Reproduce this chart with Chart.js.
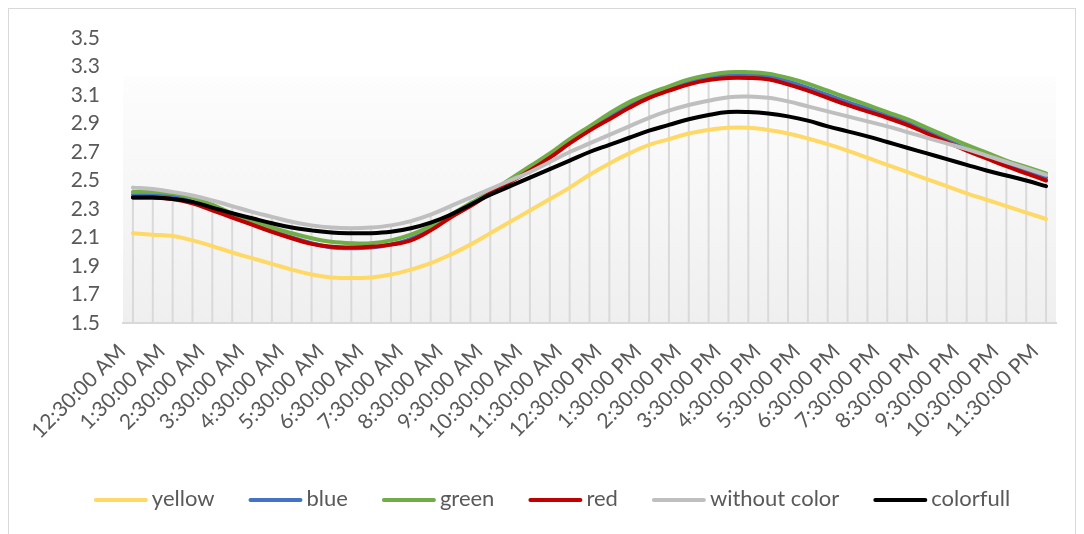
<!DOCTYPE html>
<html>
<head>
<meta charset="utf-8">
<script src="https://cdn.jsdelivr.net/npm/chart.js@4.4.1/dist/chart.umd.min.js"></script>
<style>
  html, body { margin: 0; padding: 0; background: #ffffff; }
  #wrap { position: relative; width: 1084px; height: 534px; }
  canvas { display: block; }
</style>
</head>
<body>
<div id="wrap"><canvas id="chart" width="1084" height="534"></canvas></div>
<script>
// Half-hourly readings over one day
const times = [
  "12:30:00 AM", "1:00:00 AM", "1:30:00 AM", "2:00:00 AM", "2:30:00 AM", "3:00:00 AM",
  "3:30:00 AM", "4:00:00 AM", "4:30:00 AM", "5:00:00 AM", "5:30:00 AM", "6:00:00 AM",
  "6:30:00 AM", "7:00:00 AM", "7:30:00 AM", "8:00:00 AM", "8:30:00 AM", "9:00:00 AM",
  "9:30:00 AM", "10:00:00 AM", "10:30:00 AM", "11:00:00 AM", "11:30:00 AM", "12:00:00 PM",
  "12:30:00 PM", "1:00:00 PM", "1:30:00 PM", "2:00:00 PM", "2:30:00 PM", "3:00:00 PM",
  "3:30:00 PM", "4:00:00 PM", "4:30:00 PM", "5:00:00 PM", "5:30:00 PM", "6:00:00 PM",
  "6:30:00 PM", "7:00:00 PM", "7:30:00 PM", "8:00:00 PM", "8:30:00 PM", "9:00:00 PM",
  "9:30:00 PM", "10:00:00 PM", "10:30:00 PM", "11:00:00 PM", "11:30:00 PM"
];

const yellow = [2.13, 2.12, 2.11, 2.08, 2.04, 1.995, 1.955, 1.915, 1.875, 1.84,
  1.82, 1.815, 1.82, 1.84, 1.875, 1.92, 1.98, 2.05, 2.13, 2.21,
  2.29, 2.37, 2.45, 2.54, 2.62, 2.69, 2.75, 2.79, 2.83, 2.855,
  2.87, 2.87, 2.855, 2.83, 2.795, 2.755, 2.71, 2.66, 2.61, 2.56,
  2.51, 2.46, 2.41, 2.365, 2.32, 2.275, 2.23];

const blue = [2.40, 2.40, 2.39, 2.35, 2.30, 2.25, 2.20, 2.15, 2.10, 2.06,
  2.03, 2.025, 2.03, 2.05, 2.09, 2.16, 2.25, 2.33, 2.42, 2.50,
  2.58, 2.67, 2.77, 2.86, 2.95, 3.03, 3.09, 3.14, 3.19, 3.22,
  3.24, 3.24, 3.23, 3.195, 3.15, 3.10, 3.05, 3.005, 2.96, 2.91,
  2.85, 2.785, 2.72, 2.67, 2.62, 2.57, 2.52];

const green = [2.42, 2.42, 2.41, 2.38, 2.33, 2.27, 2.22, 2.17, 2.13, 2.095,
  2.07, 2.06, 2.06, 2.08, 2.12, 2.18, 2.26, 2.34, 2.42, 2.51,
  2.60, 2.69, 2.79, 2.88, 2.97, 3.05, 3.11, 3.16, 3.21, 3.24,
  3.26, 3.26, 3.25, 3.22, 3.18, 3.13, 3.08, 3.03, 2.98, 2.93,
  2.87, 2.81, 2.75, 2.695, 2.64, 2.595, 2.55];

const red = [2.38, 2.38, 2.37, 2.34, 2.29, 2.24, 2.19, 2.14, 2.095, 2.055,
  2.035, 2.03, 2.035, 2.05, 2.08, 2.15, 2.24, 2.32, 2.41, 2.49,
  2.57, 2.66, 2.76, 2.85, 2.93, 3.01, 3.08, 3.13, 3.175, 3.205,
  3.22, 3.22, 3.21, 3.175, 3.13, 3.08, 3.03, 2.985, 2.94, 2.89,
  2.83, 2.77, 2.71, 2.655, 2.60, 2.55, 2.50];

const withoutColor = [2.45, 2.44, 2.42, 2.395, 2.36, 2.32, 2.28, 2.245, 2.21, 2.185,
  2.17, 2.165, 2.17, 2.185, 2.215, 2.26, 2.32, 2.38, 2.44, 2.50,
  2.56, 2.63, 2.70, 2.76, 2.82, 2.88, 2.94, 2.99, 3.03, 3.06,
  3.085, 3.09, 3.08, 3.055, 3.02, 2.985, 2.95, 2.915, 2.88, 2.84,
  2.80, 2.76, 2.72, 2.675, 2.63, 2.585, 2.54];

const colorfull = [2.38, 2.38, 2.37, 2.35, 2.31, 2.27, 2.235, 2.20, 2.17, 2.15,
  2.135, 2.13, 2.13, 2.14, 2.165, 2.205, 2.26, 2.33, 2.40, 2.46,
  2.52, 2.58, 2.64, 2.70, 2.75, 2.80, 2.85, 2.89, 2.93, 2.96,
  2.98, 2.98, 2.97, 2.95, 2.92, 2.88, 2.845, 2.81, 2.77, 2.73,
  2.69, 2.65, 2.61, 2.57, 2.535, 2.50, 2.46];

const seriesNames = ["yellow", "blue", "green", "red", "without color", "colorfull"];
const seriesValues = [yellow, blue, green, red, withoutColor, colorfull];
const seriesColors = ["#FFD966", "#4472C4", "#70AD47", "#C00000", "#BFBFBF", "#000000"];

// Value axis: 1.5 to 3.5 in steps of 0.2
const yTicks = [1.5, 1.7, 1.9, 2.1, 2.3, 2.5, 2.7, 2.9, 3.1, 3.3, 3.5];

const TEXT_COLOR = "#595959";
const FONT = "Lato";
const FONT_SIZE = 21;
const LEGEND_FONT_SIZE = 22;

// Background, plot-area shading and the outer frame
const backdrop = {
  id: "backdrop",
  beforeDraw(chart) {
    const { ctx, chartArea: a } = chart;
    ctx.save();
    ctx.fillStyle = "#ffffff";
    ctx.fillRect(0, 0, chart.width, chart.height);
    const shadeTop = a.top + (a.bottom - a.top) * 0.133;
    const g = ctx.createLinearGradient(0, shadeTop, 0, a.bottom);
    g.addColorStop(0, "#fdfdfd");
    g.addColorStop(1, "#efefef");
    ctx.fillStyle = g;
    ctx.fillRect(a.left, shadeTop, a.right - a.left, a.bottom - shadeTop);
    ctx.strokeStyle = "#d9d9d9";
    ctx.lineWidth = 1;
    ctx.strokeRect(8.5, 8.5, chart.width - 17, chart.height + 20);
    ctx.restore();
  }
};

// Drop lines from the highest series down to the category axis
const dropLines = {
  id: "dropLines",
  beforeDatasetsDraw(chart) {
    const { ctx, chartArea: a, scales: { x, y } } = chart;
    ctx.save();
    ctx.strokeStyle = "#d9d9d9";
    ctx.lineWidth = 2;
    times.forEach((t, i) => {
      const top = Math.max(...seriesValues.map(s => s[i]));
      const px = x.getPixelForValue(i);
      ctx.beginPath();
      ctx.moveTo(px, y.getPixelForValue(top));
      ctx.lineTo(px, a.bottom);
      ctx.stroke();
    });
    ctx.restore();
  }
};

// Legend row under the axis labels
const bottomLegend = {
  id: "bottomLegend",
  afterDraw(chart) {
    const ctx = chart.ctx;
    ctx.save();
    ctx.font = LEGEND_FONT_SIZE + "px " + FONT;
    const lineLen = 54, textGap = 4, itemGap = 34;
    const items = chart.data.datasets.map(ds => ({
      label: ds.label, color: ds.borderColor, w: ctx.measureText(ds.label).width
    }));
    const total = items.reduce((s, it) => s + lineLen + textGap + it.w, 0) + itemGap * (items.length - 1);
    let x = 552 - total / 2;
    const y = 500;
    items.forEach(it => {
      ctx.strokeStyle = it.color;
      ctx.lineWidth = 4;
      ctx.lineCap = "round";
      ctx.beginPath();
      ctx.moveTo(x + 2, y);
      ctx.lineTo(x + lineLen - 2, y);
      ctx.stroke();
      ctx.fillStyle = TEXT_COLOR;
      ctx.textBaseline = "middle";
      ctx.textAlign = "left";
      ctx.fillText(it.label, x + lineLen + textGap, y - 1);
      x += lineLen + textGap + it.w + itemGap;
    });
    ctx.restore();
  }
};

Chart.defaults.font.family = FONT;
Chart.defaults.font.size = FONT_SIZE;
Chart.defaults.color = TEXT_COLOR;

new Chart(document.getElementById("chart"), {
  type: "line",
  data: {
    labels: times,
    datasets: seriesNames.map((name, k) => ({
      label: name,
      data: seriesValues[k],
      borderColor: seriesColors[k],
      backgroundColor: seriesColors[k],
      borderWidth: 4,
      pointRadius: 0,
      pointHoverRadius: 0,
      tension: 0.4,
      fill: false,
      borderCapStyle: "round",
      borderJoinStyle: "round",
      order: seriesNames.length - k
    }))
  },
  options: {
    responsive: false,
    animation: false,
    devicePixelRatio: 1,
    layout: { padding: { top: 38, right: 28, left: 0, bottom: 0 } },
    plugins: {
      legend: { display: false },
      tooltip: { enabled: false }
    },
    scales: {
      x: {
        type: "category",
        offset: true,
        grid: { display: false, drawTicks: false },
        border: { display: true, color: "#d9d9d9", width: 2 },
        ticks: {
          autoSkip: false,
          maxRotation: 45,
          minRotation: 45,
          padding: 16,
          labelOffset: -11,
          color: TEXT_COLOR,
          font: { size: FONT_SIZE, lineHeight: 1.2 },
          callback: (v, i) => (i % 2 === 0 ? times[i] : "")
        },
        afterFit(scale) { scale.height = 534 - 323; }
      },
      y: {
        min: yTicks[0],
        max: yTicks[yTicks.length - 1],
        grid: { display: false, drawTicks: false },
        border: { display: false },
        ticks: {
          autoSkip: false,
          stepSize: 0.2,
          padding: 23,
          color: TEXT_COLOR,
          font: { size: FONT_SIZE },
          callback: v => Number(v).toFixed(1)
        },
        afterFit(scale) { scale.width = 123; }
      }
    }
  },
  plugins: [backdrop, dropLines, bottomLegend]
});
</script>
</body>
</html>
